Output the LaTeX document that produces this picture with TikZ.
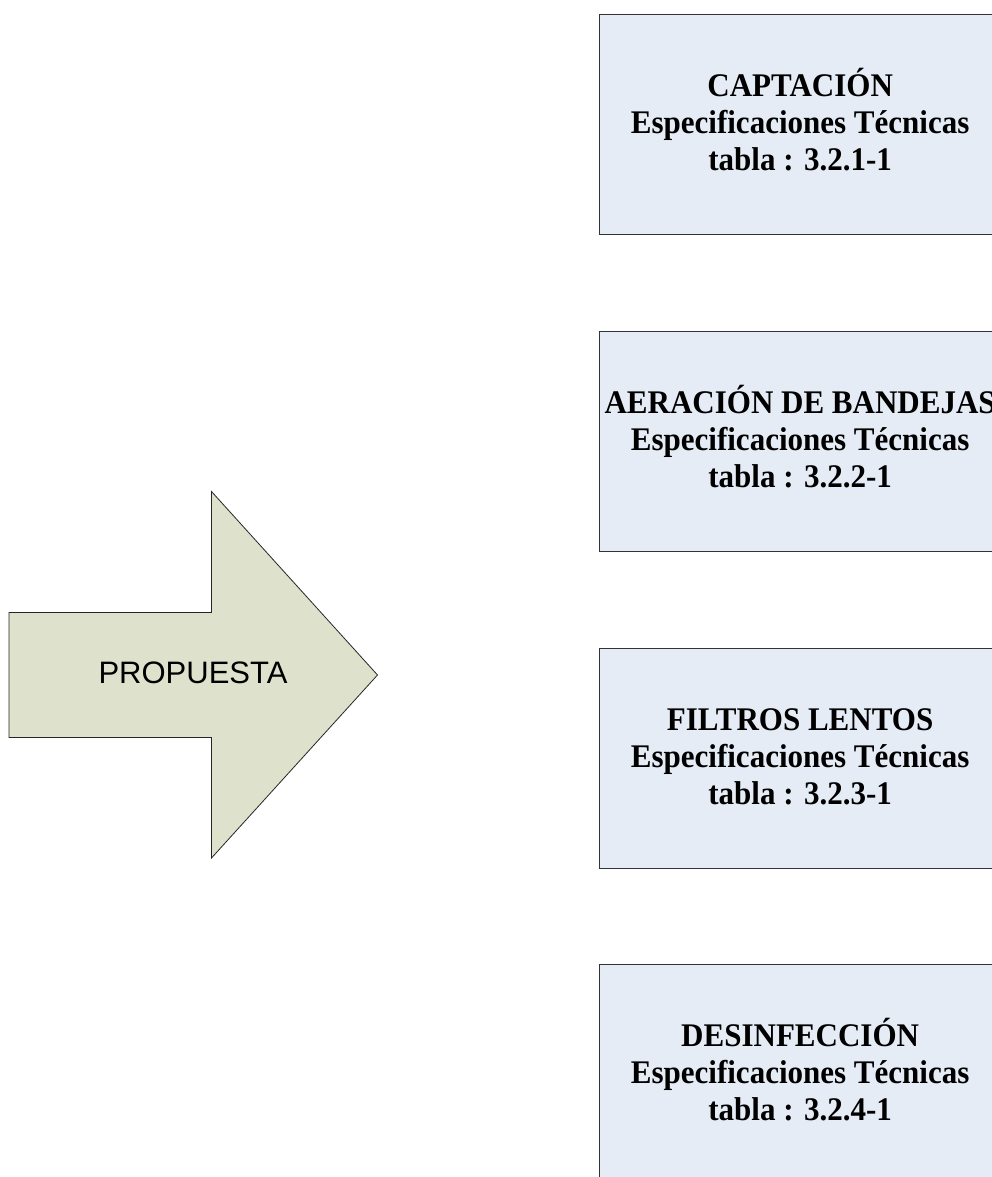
\documentclass[tikz,border=0pt]{standalone}
\usepackage{fontspec}
\setmainfont{Liberation Serif}
\newfontfamily\condserif[FakeStretch=0.94]{Liberation Serif}
\newfontfamily\arialfont{Liberation Sans}
\definecolor{boxfill}{RGB}{230,236,246}
\definecolor{arrowfill}{RGB}{222,226,204}
\begin{document}
\begin{tikzpicture}[x=1pt,y=-1pt,
  specbox/.style={draw=black!80, line width=1.3pt, fill=boxfill, minimum width=402pt, minimum height=220pt, anchor=north west, inner sep=0pt},
  spectext/.style={align=center, font=\condserif\fontsize{33}{37}\selectfont\bfseries, inner sep=0pt, anchor=center},
  bigarrow/.style={draw=black!85, line width=0.8pt, fill=arrowfill}]
\useasboundingbox (0,0) rectangle (992,1177);
% arrow
\draw[bigarrow] (9,612.5) -- (211.5,612.5) -- (211.5,491.5) -- (377.5,675) -- (211.5,858) -- (211.5,737.5) -- (9,737.5) -- cycle;
\node[font=\arialfont\fontsize{31}{35}\selectfont, inner sep=0pt] (prop) at (193,673) {PROPUESTA};
% boxes
\node[specbox] (b1) at (598.5,14) {};
\node[specbox] (b2) at (598.5,331) {};
\node[specbox] (b3) at (598.5,647.5) {};
\node[specbox] (b4) at (598.5,964) {};
\node[spectext] (t1) at ([yshift=5pt]b1.center) {\vphantom{ÓÁ}CAPTACIÓN\\Especificaciones Técnicas\\tabla : 3.2.1-1};
\node[spectext] (t2) at ([yshift=5pt]b2.center) {\vphantom{ÓÁ}AERACIÓN DE BANDEJAS\\Especificaciones Técnicas\\tabla : 3.2.2-1};
\node[spectext] (t3) at ([yshift=5pt]b3.center) {\vphantom{ÓÁ}FILTROS LENTOS\\Especificaciones Técnicas\\tabla : 3.2.3-1};
\node[spectext] (t4) at ([yshift=5pt]b4.center) {\vphantom{ÓÁ}DESINFECCIÓN\\Especificaciones Técnicas\\tabla : 3.2.4-1};
\end{tikzpicture}
\end{document}
